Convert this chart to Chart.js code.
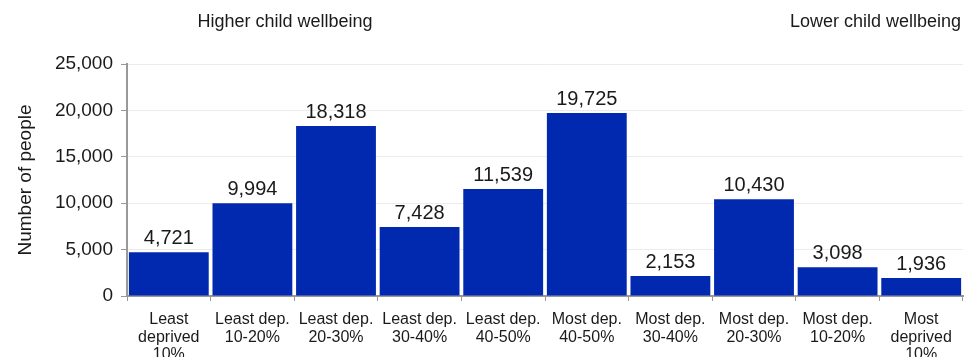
<!DOCTYPE html>
<html><head><meta charset="utf-8">
<script src="https://cdn.jsdelivr.net/npm/chart.js@4"></script>
<style>html,body{margin:0;padding:0;background:#fff}#wrap{width:964px;height:357px;position:relative}</style>
</head><body><div id="wrap"><canvas id="c"></canvas></div>
<script>
const categories = [
  ["Least","deprived","10%"],["Least dep.","10-20%"],["Least dep.","20-30%"],["Least dep.","30-40%"],["Least dep.","40-50%"],
  ["Most dep.","40-50%"],["Most dep.","30-40%"],["Most dep.","20-30%"],["Most dep.","10-20%"],["Most","deprived","10%"]
];
const people = [4721, 9994, 18318, 7428, 11539, 19725, 2153, 10430, 3098, 1936];
const yTicks = [0, 5000, 10000, 15000, 20000, 25000];
const leftNote = "Higher child wellbeing";
const rightNote = "Lower child wellbeing";
const yTitle = "Number of people";

const FONT = "'Liberation Sans', Arial, sans-serif";
const fmt = v => v.toLocaleString('en-GB');

const labelsPlugin = {
  id: 'labelsPlugin',
  afterDatasetsDraw(chart) {
    const ctx = chart.ctx;
    const meta = chart.getDatasetMeta(0);
    ctx.save();
    ctx.font = "20px " + FONT;
    ctx.fillStyle = "#1a1a1a";
    ctx.textAlign = "center";
    ctx.textBaseline = "alphabetic";
    meta.data.forEach((bar, i) => {
      ctx.fillText(fmt(people[i]), bar.x, bar.y - 8);
    });
    ctx.font = "18px " + FONT;
    ctx.textBaseline = "middle";
    ctx.textAlign = "center";
    ctx.fillText(leftNote, 285, 22);
    ctx.textAlign = "right";
    ctx.fillText(rightNote, 961, 22);
    ctx.restore();
  }
};

new Chart(document.getElementById('c'), {
  type: 'bar',
  data: { labels: categories, datasets: [{ data: people, backgroundColor: '#0029B0', barPercentage: 0.955, categoryPercentage: 1 }] },
  options: {
    responsive: true, maintainAspectRatio: false, animation: false,
    layout: { padding: { top: 64, right: 1, left: 0, bottom: 0 } },
    plugins: { legend: { display: false }, tooltip: { enabled: false } },
    scales: {
      x: {
        grid: { display: true, drawOnChartArea: false, offset: true, color: '#999', tickLength: 5 },
        border: { color: '#999', width: 2 },
        ticks: { color: '#1a1a1a', font: { family: FONT, size: 16, lineHeight: 1.1 }, maxRotation: 0, autoSkip: false, padding: 10 },
        afterFit(s) { s.height = 61; }
      },
      y: {
        min: 0, max: 25000,
        afterBuildTicks(s) { s.ticks = yTicks.map(v => ({ value: v })); },
        grid: { color: '#ececec', tickColor: '#999', tickLength: 6 },
        border: { color: '#999', width: 2 },
        ticks: { color: '#1a1a1a', font: { family: FONT, size: 19 }, padding: 8, callback: v => fmt(v) },
        title: { display: true, text: yTitle, color: '#1a1a1a', font: { family: FONT, size: 19 }, padding: { top: 14, bottom: 0 } },
        afterFit(s) { s.width = 127; }
      }
    }
  },
  plugins: [labelsPlugin]
});
</script></body></html>
